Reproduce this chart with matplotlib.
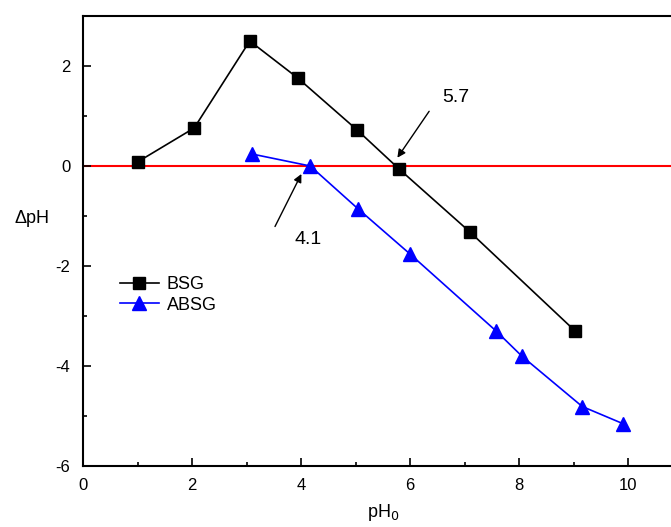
import matplotlib
matplotlib.use("Agg")
import matplotlib.pyplot as plt
from matplotlib.ticker import MultipleLocator

plt.rcParams['font.family'] = ['Liberation Sans', 'DejaVu Sans']
plt.rcParams['axes.unicode_minus'] = False

# data
bsg_x = [1.0, 2.04, 3.06, 3.94, 5.03, 5.8, 7.1, 9.03]
bsg_y = [0.08, 0.76, 2.5, 1.76, 0.72, -0.06, -1.32, -3.3]
absg_x = [3.1, 4.17, 5.05, 6.0, 7.58, 8.05, 9.16, 9.9]
absg_y = [0.24, 0.0, -0.86, -1.76, -3.3, -3.8, -4.81, -5.15]

fig = plt.figure(figsize=(6.71, 5.27), dpi=100)
# axes run past the right edge, as in the reference
ax = fig.add_axes([83 / 671, 1 - 466 / 527, 11 * 54.5 / 671, 450 / 527])

ax.axhline(0, color='red', lw=1.5, zorder=1)
ax.plot(bsg_x, bsg_y, color='black', lw=1.2, marker='s', markersize=9, label='BSG', zorder=3)
ax.plot(absg_x, absg_y, color='blue', lw=1.2, marker='^', markersize=10, label='ABSG', zorder=3)

ax.set_xlim(0, 11)
ax.set_ylim(-6, 3)
ax.xaxis.set_major_locator(MultipleLocator(2))
ax.xaxis.set_minor_locator(MultipleLocator(1))
ax.yaxis.set_major_locator(MultipleLocator(2))
ax.yaxis.set_minor_locator(MultipleLocator(1))
ax.tick_params(which='both', direction='in', labelsize=12, width=1.2, pad=9)
ax.tick_params(which='major', length=6)
ax.tick_params(which='minor', length=3)
for s in ax.spines.values():
    s.set_linewidth(1.5)

ax.set_xlabel('pH$_0$', fontsize=13, labelpad=6)
ax.set_ylabel('ΔpH', fontsize=13, rotation=0, ha='center', va='center')
ax.yaxis.set_label_coords(-0.085, 0.551)

ax.annotate('', xy=(5.74, 0.12), xytext=(6.38, 1.14),
            arrowprops=dict(arrowstyle='-|>', color='black', lw=1.0, mutation_scale=12))
ax.text(6.6, 1.38, '5.7', fontsize=14, va='center')
ax.annotate('', xy=(4.03, -0.11), xytext=(3.5, -1.26),
            arrowprops=dict(arrowstyle='-|>', color='black', lw=1.0, mutation_scale=12))
ax.text(3.88, -1.48, '4.1', fontsize=14, va='center')

ax.legend(loc='upper left', bbox_to_anchor=(0.04, 0.45), frameon=False, fontsize=13,
          handlelength=2.2, handletextpad=0.4, borderpad=0.2, labelspacing=0.2)

fig.savefig('out.png', dpi=100)
